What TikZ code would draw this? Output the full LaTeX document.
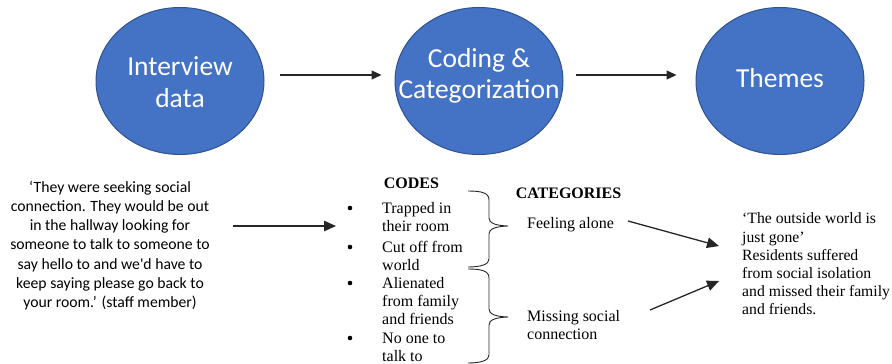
\documentclass[tikz,border=0pt]{standalone}
\usepackage{fontspec}
\setmainfont{Liberation Serif}
\newfontfamily\calib{Carlito}
\usetikzlibrary{shapes.geometric,arrows.meta}
\definecolor{stageblue}{HTML}{4472C4}
\definecolor{stageedge}{HTML}{2F528F}
\begin{document}
\begin{tikzpicture}[x=1pt,y=-1pt,
  stage/.style={ellipse, draw=stageedge, line width=1pt, fill=stageblue,
    minimum width=168pt, minimum height=147pt, inner sep=0pt},
  stagetext/.style={text=white, font=\calib\fontsize{27.5}{31.5}\selectfont,
    align=center, inner sep=0pt},
  flow/.style={-{Triangle[length=10pt,width=9pt]}, line width=1.3pt, draw=black!85},
  link/.style={-{Triangle[length=12pt,width=10.5pt]}, line width=1.3pt, draw=black!85},
  serif/.style={font=\fontsize{16}{18.4}\selectfont, inner sep=0pt},
  head/.style={font=\bfseries\fontsize{16}{18.4}\selectfont, inner sep=0pt},
  item/.style={serif, anchor=north west, align=left},
  dot/.style={circle, fill=black, inner sep=0pt, minimum size=4.6pt},
  bracket/.style={line width=0.9pt, draw=black!85}]
\useasboundingbox (0,0) rectangle (892,364);

% process stages
\node[stage] (interview) at (180,81) {};
\node[stage] (coding) at (479,81) {};
\node[stage] (themes) at (780,81) {};
\node[stagetext] (interviewtxt) at (180,82) {Interview\\data};
\node[stagetext] (codingtxt) at (479,76) {Coding \&\\Categorization};
\node[stagetext] (themestxt) at (780,78) {Themes};

\draw[flow] ([shift={(15,-6)}]interview.east) -- ([shift={(-13,-6)}]coding.west);
\draw[flow] ([shift={(12,-6)}]coding.east) -- ([shift={(-19,-6)}]themes.west);

% staff quote
\node[font=\calib\fontsize{15.7}{19.3}\selectfont, align=center, inner sep=0pt]
  (quote) at (110,245.5)
  {‘They were seeking social\\connection. They would be out\\in the hallway looking for\\someone to talk to someone to\\say hello to and we'd have to\\keep saying please go back to\\your room.’ (staff member)};
\coordinate (quoteout) at (233,226);
\coordinate (codesin) at (336,226);
\draw[link] (quoteout) -- (codesin);

% codes
\node[head] (codes) at (411.5,183) {CODES};
\node[dot] (b1) at (350,208) {};
\node[dot] (b2) at (350,247) {};
\node[dot] (b3) at (350,283) {};
\node[dot] (b4) at (350,338) {};
\node[item] (c1) at (382,200.1) {\strut Trapped in\\their room};
\node[item] (c2) at (382,239.1) {\strut Cut off from\\world};
\node[item] (c3) at (382,275.1) {\strut Alienated\\from family\\and friends};
\node[item] (c4) at (382,330.1) {\strut No one to\\talk to};

% braces grouping the codes
\draw[bracket] (468,191) .. controls (482,191) and (489,193) .. (489,200)
  -- (489,218) .. controls (489,223) and (495,225.5) .. (508,226)
  .. controls (495,226.5) and (489,229) .. (489,234)
  -- (489,259) .. controls (489,264) and (482,267) .. (468,267);
\draw[bracket] (468,269) .. controls (482,269) and (489,271) .. (489,278)
  -- (489,309) .. controls (489,314) and (495,316.5) .. (508,317)
  .. controls (495,317.5) and (489,320) .. (489,325)
  -- (489,355) .. controls (489,360) and (482,363) .. (468,363);

% categories
\node[head] (cats) at (568.5,193) {CATEGORIES};
\node[serif, anchor=west] (feel) at (527,225) {Feeling alone};
\node[serif, anchor=west, align=left] (miss) at (527,325) {Missing social\\connection};

% theme statement
\node[serif, font=\fontsize{15.7}{18.2}\selectfont, anchor=west, align=left] (theme) at (742,264)
  {‘The outside world is\\just gone’\\Residents suffered\\from social isolation\\and missed their family\\and friends.};
\coordinate (feelout) at (628,221);
\coordinate (missout) at (650,310);
\coordinate (themein1) at (719,246);
\coordinate (themein2) at (719,281);
\draw[link] (feelout) -- (themein1);
\draw[link] (missout) -- (themein2);
\end{tikzpicture}
\end{document}
